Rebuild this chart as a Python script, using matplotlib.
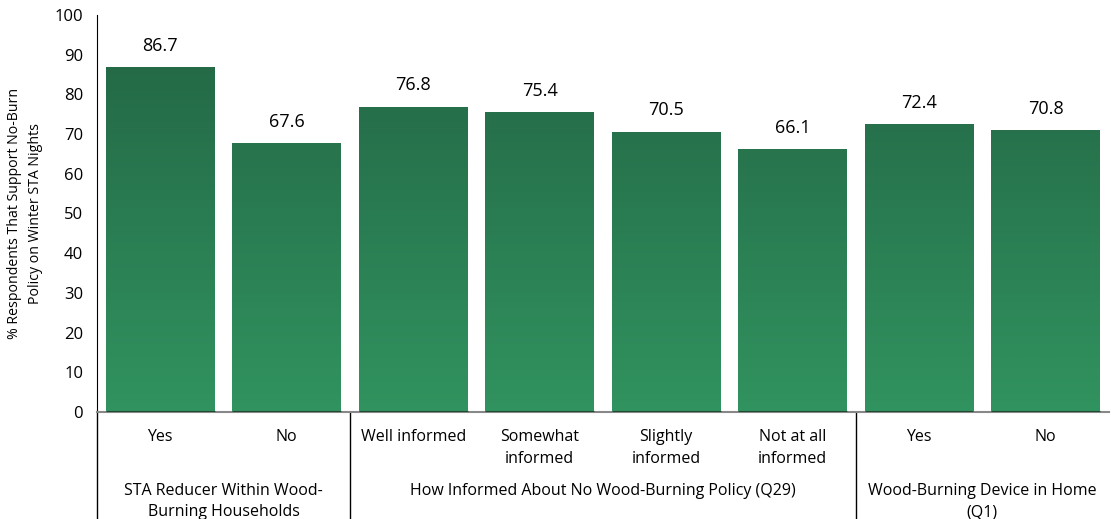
import numpy as np
import matplotlib.pyplot as plt
from matplotlib.colors import LinearSegmentedColormap
from matplotlib.lines import Line2D

plt.rcParams['font.family'] = ['Open Sans', 'DejaVu Sans']

categories = ["Yes", "No", "Well informed", "Somewhat\ninformed", "Slightly\ninformed",
              "Not at all\ninformed", "Yes", "No"]
values = [86.7, 67.6, 76.8, 75.4, 70.5, 66.1, 72.4, 70.8]
groups = ["STA Reducer Within Wood-\nBurning Households",
          "How Informed About No Wood-Burning Policy (Q29)",
          "Wood-Burning Device in Home\n(Q1)"]
group_sizes = [2, 4, 2]
ylabel = "% Respondents That Support No-Burn\nPolicy on Winter STA Nights"

cmap = LinearSegmentedColormap.from_list("grn", ["#31935f", "#226444"])

fig = plt.figure(figsize=(11.11, 5.19), dpi=100)
ax = fig.add_axes([0.0873, 0.2062, 0.9107, 0.7649])

x = np.arange(len(values))
w = 0.86
bars = ax.bar(x, values, width=w, color="none", zorder=2)
for b, v in zip(bars, values):
    x0 = b.get_x()
    grad = np.linspace(0, v / 100.0, 256).reshape(-1, 1)
    ax.imshow(grad, cmap=cmap, vmin=0, vmax=1, aspect="auto", origin="lower",
              extent=(x0, x0 + w, 0, v), zorder=2)
    ax.plot([x0, x0 + w], [0, 0], color="#1d4a30", lw=2.2, zorder=3, solid_capstyle="butt")
    ax.text(b.get_x() + w / 2, v + 3.2, f"{v:.1f}", ha="center", va="bottom", fontsize=13)

ax.set_xlim(-0.5, len(values) - 0.5)
ax.set_ylim(0, 100)
ax.set_yticks(np.arange(0, 101, 10))
ax.tick_params(axis="y", length=0, labelsize=12, pad=10)
ax.set_xticks([])
ax.spines["top"].set_visible(False)
ax.spines["right"].set_visible(False)
ax.spines["left"].set_color("black")
ax.spines["bottom"].set_color("#888888")
ax.spines["bottom"].set_linewidth(1.5)
ax.set_ylabel(ylabel, fontsize=10.2, labelpad=8, linespacing=1.6)

trans = ax.get_xaxis_transform()
for xi, c in zip(x, categories):
    ax.text(xi, -0.043, c, transform=trans, ha="center", va="top", fontsize=11.5, linespacing=1.5)

start = 0
seps = [-0.5]
for g, n in zip(groups, group_sizes):
    mid = start + (n - 1) / 2
    ax.text(mid, -0.18, g, transform=trans, ha="center", va="top", fontsize=11.5, linespacing=1.4)
    start += n
    seps.append(start - 0.5)
for s in seps[:-1]:
    ax.add_line(Line2D([s, s], [0, -0.28], transform=trans, color="black", lw=1, clip_on=False))

fig.savefig("out.png", dpi=100)
